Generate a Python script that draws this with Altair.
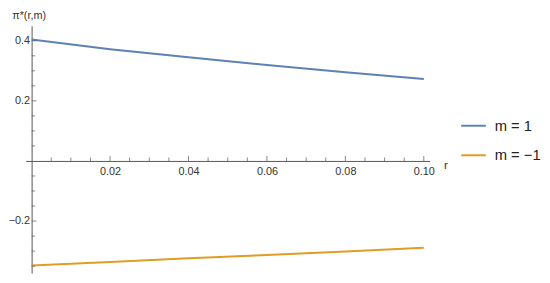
import altair as alt
import pandas as pd

# ---- data ----
r_vals = [0.0, 0.02, 0.04, 0.06, 0.08, 0.10]
pi_m_pos = [0.404, 0.372, 0.345, 0.319, 0.295, 0.273]
pi_m_neg = [-0.348, -0.336, -0.324, -0.313, -0.301, -0.289]
series_labels = ["m = 1", "m = \u22121"]
series_colors = ["#5E81B5", "#E19C24"]

x_major = [0.02, 0.04, 0.06, 0.08, 0.10]
x_minor = [0.005, 0.01, 0.015, 0.025, 0.03, 0.035, 0.045, 0.05, 0.055,
           0.065, 0.07, 0.075, 0.085, 0.09, 0.095]
y_major = [0.4, 0.2, -0.2]
y_minor = [0.05, 0.1, 0.15, 0.25, 0.3, 0.35,
           -0.05, -0.1, -0.15, -0.25, -0.3, -0.35]

X_DOMAIN = [-0.0015, 0.1015]
Y_DOMAIN = [-0.373, 0.45]
W, H = 410, 251

rows = []
for lab, vals in zip(series_labels, [pi_m_pos, pi_m_neg]):
    for r, v in zip(r_vals, vals):
        rows.append({"r": r, "pi": v, "m": lab})
df = pd.DataFrame(rows)

# pixel positions of the zero lines (axes cross at the origin)
x0_px = (0 - X_DOMAIN[0]) / (X_DOMAIN[1] - X_DOMAIN[0]) * W
y0_from_bottom = (0 - Y_DOMAIN[0]) / (Y_DOMAIN[1] - Y_DOMAIN[0]) * H

xs = alt.Scale(domain=X_DOMAIN, nice=False, zero=False)
ys = alt.Scale(domain=Y_DOMAIN, nice=False, zero=False)

FONT = "Liberation Sans"
AXIS_COLOR = "#555555"

x_axis = alt.Axis(
    orient="bottom", offset=-y0_from_bottom, values=x_major, format=".2f",
    ticks=False, grid=False, domainColor=AXIS_COLOR, domainWidth=1,
    labelFont=FONT, labelFontSize=11, labelColor="#333333", labelPadding=5,
    title="r", titleFont=FONT, titleFontSize=12, titleFontWeight="normal",
    titleColor="#333333", titleAlign="left", titleBaseline="alphabetic",
    titleX=424, titleY=8, titleAngle=0,
)
y_axis = alt.Axis(
    orient="left", offset=-x0_px, values=y_major, format=".1f",
    ticks=False, grid=False, domainColor=AXIS_COLOR, domainWidth=1,
    labelFont=FONT, labelFontSize=11, labelColor="#333333", labelPadding=2,
    title="\u03c0*(r,m)", titleFont=FONT, titleFontSize=11, titleFontWeight="normal",
    titleColor="#333333", titleAngle=0, titleAlign="center", titleBaseline="middle",
    titleX=-3, titleY=-10,
)

lines = alt.Chart(df).mark_line(strokeWidth=2).encode(
    x=alt.X("r:Q", scale=xs, axis=x_axis),
    y=alt.Y("pi:Q", scale=ys, axis=y_axis),
    color=alt.Color(
        "m:N",
        scale=alt.Scale(domain=series_labels, range=series_colors),
        sort=series_labels,
        legend=alt.Legend(
            title=None, orient="none", legendX=441, legendY=88,
            symbolType="stroke", symbolSize=625, symbolStrokeWidth=2,
            labelFont=FONT, labelFontSize=15, labelColor="#222222",
            labelOffset=8, rowPadding=8,
        ),
    ),
)

def x_ticks(vals, size):
    return alt.Chart(pd.DataFrame({"v": vals})).mark_tick(
        orient="vertical", size=size, thickness=1, color=AXIS_COLOR,
        yOffset=-size / 2,
    ).encode(x=alt.X("v:Q", scale=xs), y=alt.datum(0))

def y_ticks(vals, size):
    return alt.Chart(pd.DataFrame({"w": vals})).mark_tick(
        orient="horizontal", size=size, thickness=1, color=AXIS_COLOR,
        xOffset=size / 2,
    ).encode(y=alt.Y("w:Q", scale=ys), x=alt.datum(0))

chart = alt.layer(
    lines,
    x_ticks(x_major, 5), x_ticks(x_minor, 3.5),
    y_ticks(y_major, 5), y_ticks(y_minor, 3.5),
).properties(
    width=W, height=H,
    autosize=alt.AutoSizeParams(type="none"),
    padding={"left": 18, "top": 16, "right": 114, "bottom": 0},
).configure_view(stroke=None)

chart.save("out.html", embed_options={"renderer": "svg", "actions": False})
